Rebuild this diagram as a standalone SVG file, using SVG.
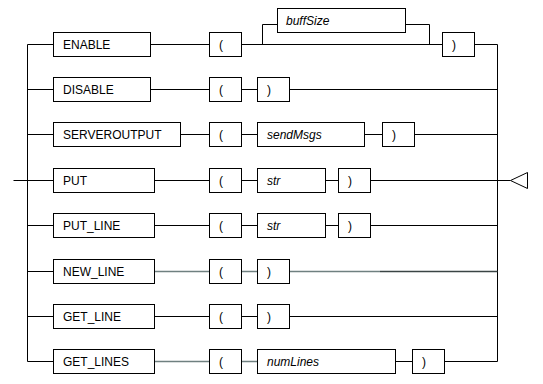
<svg xmlns="http://www.w3.org/2000/svg" width="543" height="384" viewBox="0 0 543 384">
<style>
.box{fill:#fff;stroke:#000;stroke-width:1}
.t{font-family:"Liberation Sans",Arial,sans-serif;font-size:12px;fill:#000}
.v{font-style:italic}
.ln{stroke:#000;stroke-width:1;fill:none}
.g{stroke:#6f8080;stroke-width:1.5;fill:none}
.dg{stroke:#3a4444;stroke-width:1.5;fill:none}
</style>
<rect width="543" height="384" fill="#fff"/>
<g id="connectors">
<path class="ln" d="M13.5 180.5H27.5M27.5 44.5V361.5M497.5 44.5V361.5M497.5 180.5H510.5"/>
<polygon points="510.5,180.5 527.5,172.5 527.5,188.5" fill="#fff" stroke="#000"/>
<path class="ln" d="M27.5 44.5H53.5M150.5 44.5H209.5M241.5 44.5H442.5M262.5 44.5V24.5H277.5M405.5 24.5H429.5V44.5M474.5 44.5H497.5"/>
<path class="ln" d="M27.5 89.5H53.5M150.5 89.5H209.5M241.5 89.5H257.5M289.5 89.5H497.5"/>
<path class="ln" d="M27.5 134.5H53.5M180.5 134.5H209.5M241.5 134.5H257.5M364.5 134.5H382.5M414.5 134.5H497.5"/>
<path class="ln" d="M27.5 180.5H53.5M154.5 180.5H209.5M241.5 180.5H257.5M325.5 180.5H338.5M370.5 180.5H497.5"/>
<path class="ln" d="M27.5 225.5H53.5M154.5 225.5H209.5M241.5 225.5H257.5M325.5 225.5H338.5M370.5 225.5H497.5"/>
<path class="ln" d="M27.5 271.5H53.5"/>
<path class="g" d="M154.5 271.5H209.5M241.5 271.5H257.5M289.5 271.5H380"/>
<path class="dg" d="M380 271.5H497.5"/>
<path class="ln" d="M27.5 316.5H53.5M154.5 316.5H209.5M241.5 316.5H257.5M289.5 316.5H497.5"/>
<path class="ln" d="M27.5 361.5H53.5M395.5 361.5H412.5M444.5 361.5H497.5"/>
<path class="g" d="M154.5 361.5H209.5M241.5 361.5H257.5"/>
</g>
<g id="n_enable"><rect class="box" x="53.5" y="32.5" width="97" height="24"/><text class="t" x="63" y="49">ENABLE</text></g>
<g id="n_enable_lp"><rect class="box" x="209.5" y="32.5" width="32" height="24"/><text class="t" x="219" y="49">(</text></g>
<g id="n_buffsize"><rect class="box" x="277.5" y="8.5" width="128" height="24"/><text class="t v" x="286" y="25">buffSize</text></g>
<g id="n_enable_rp"><rect class="box" x="442.5" y="32.5" width="32" height="24"/><text class="t" x="452" y="49">)</text></g>

<g id="n_disable"><rect class="box" x="53.5" y="77.5" width="97" height="24"/><text class="t" x="63" y="94">DISABLE</text></g>
<g id="n_disable_lp"><rect class="box" x="209.5" y="77.5" width="32" height="24"/><text class="t" x="219" y="94">(</text></g>
<g id="n_disable_rp"><rect class="box" x="257.5" y="77.5" width="32" height="24"/><text class="t" x="267" y="94">)</text></g>

<g id="n_serveroutput"><rect class="box" x="53.5" y="122.5" width="127" height="24"/><text class="t" x="63" y="139">SERVEROUTPUT</text></g>
<g id="n_so_lp"><rect class="box" x="209.5" y="122.5" width="32" height="24"/><text class="t" x="219" y="139">(</text></g>
<g id="n_sendmsgs"><rect class="box" x="257.5" y="122.5" width="107" height="24"/><text class="t v" x="267" y="139">sendMsgs</text></g>
<g id="n_so_rp"><rect class="box" x="382.5" y="122.5" width="32" height="24"/><text class="t" x="392" y="139">)</text></g>

<g id="n_put"><rect class="box" x="53.5" y="168.5" width="101" height="24"/><text class="t" x="63" y="185">PUT</text></g>
<g id="n_put_lp"><rect class="box" x="209.5" y="168.5" width="32" height="24"/><text class="t" x="219" y="185">(</text></g>
<g id="n_put_str"><rect class="box" x="257.5" y="168.5" width="68" height="24"/><text class="t v" x="267" y="185">str</text></g>
<g id="n_put_rp"><rect class="box" x="338.5" y="168.5" width="32" height="24"/><text class="t" x="348" y="185">)</text></g>

<g id="n_put_line"><rect class="box" x="53.5" y="213.5" width="101" height="24"/><text class="t" x="63" y="230">PUT_LINE</text></g>
<g id="n_pl_lp"><rect class="box" x="209.5" y="213.5" width="32" height="24"/><text class="t" x="219" y="230">(</text></g>
<g id="n_pl_str"><rect class="box" x="257.5" y="213.5" width="68" height="24"/><text class="t v" x="267" y="230">str</text></g>
<g id="n_pl_rp"><rect class="box" x="338.5" y="213.5" width="32" height="24"/><text class="t" x="348" y="230">)</text></g>

<g id="n_new_line"><rect class="box" x="53.5" y="259.5" width="101" height="24"/><text class="t" x="63" y="276">NEW_LINE</text></g>
<g id="n_nl_lp"><rect class="box" x="209.5" y="259.5" width="32" height="24"/><text class="t" x="219" y="276">(</text></g>
<g id="n_nl_rp"><rect class="box" x="257.5" y="259.5" width="32" height="24"/><text class="t" x="267" y="276">)</text></g>

<g id="n_get_line"><rect class="box" x="53.5" y="304.5" width="101" height="24"/><text class="t" x="63" y="321">GET_LINE</text></g>
<g id="n_gl_lp"><rect class="box" x="209.5" y="304.5" width="32" height="24"/><text class="t" x="219" y="321">(</text></g>
<g id="n_gl_rp"><rect class="box" x="257.5" y="304.5" width="32" height="24"/><text class="t" x="267" y="321">)</text></g>

<g id="n_get_lines"><rect class="box" x="53.5" y="349.5" width="101" height="24"/><text class="t" x="63" y="366">GET_LINES</text></g>
<g id="n_gls_lp"><rect class="box" x="209.5" y="349.5" width="32" height="24"/><text class="t" x="219" y="366">(</text></g>
<g id="n_numlines"><rect class="box" x="257.5" y="349.5" width="138" height="24"/><text class="t v" x="267" y="366">numLines</text></g>
<g id="n_gls_rp"><rect class="box" x="412.5" y="349.5" width="32" height="24"/><text class="t" x="422" y="366">)</text></g>
</svg>
